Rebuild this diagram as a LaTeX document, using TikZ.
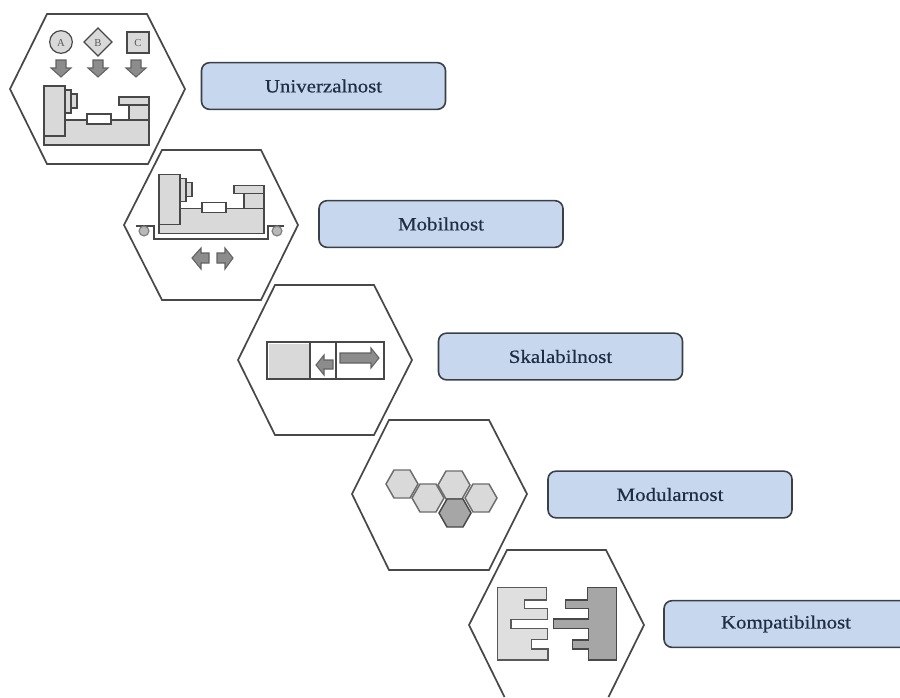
\documentclass[tikz,border=0pt]{standalone}
\usepackage{fontspec}
\setmainfont{Liberation Serif}
\newfontfamily\labelfont[FakeStretch=1.12,FakeBold=0.6]{Liberation Serif}
\definecolor{hexline}{HTML}{484848}
\definecolor{boxfill}{HTML}{C6D7EE}
\definecolor{boxline}{HTML}{3A3F48}
\definecolor{boxtext}{HTML}{1F2D45}
\definecolor{partfill}{HTML}{D9D9D9}
\definecolor{darkfill}{HTML}{A6A6A6}
\definecolor{arrowfill}{HTML}{8C8C8C}
\definecolor{partline}{HTML}{484848}
\tikzset{
  x=0.75pt,y=-0.75pt,
  bighex/.style={draw=hexline,line width=1.3pt,line join=miter},
  label box/.style={draw=boxline,fill=boxfill,line width=1.2pt,rounded corners=6pt,minimum height=35pt,
    text=boxtext,font=\labelfont\fontsize{14}{16}\selectfont,inner sep=0pt},
  part/.style={draw=partline,fill=partfill,line width=.9pt},
  white part/.style={draw=partline,fill=white,line width=.9pt},
  flow/.style={draw=arrowfill!70!black,fill=arrowfill,line width=.8pt},
  cell/.style={draw=gray!85!black,fill=partfill,line width=1.1pt},
  tag/.style={font=\fontsize{8}{9}\selectfont,text=black!65,inner sep=0pt},
  machine/.pic={
    \draw[part] (44,120) -- (149,120) -- (149,145) -- (44,145) -- cycle;
    \draw[part] (44,86) rectangle (65,136);
    \draw[part] (65,90) rectangle (71,113);
    \draw[part] (71,94) rectangle (77,108);
    \draw[white part] (87,114) rectangle (111,124);
    \draw[part] (129,105) rectangle (149,120);
    \draw[part] (119,97) rectangle (149,105);
  }
}
\begin{document}
\begin{tikzpicture}
\useasboundingbox (0,0) rectangle (900,697);
% large hexagons
\draw[bighex] (47,14) -- (147,14) -- (185,89) -- (148,164) -- (47,164) -- (10,89) -- cycle;
\draw[bighex] (162,150) -- (261,150) -- (298,225) -- (261,300) -- (162,300) -- (124,225) -- cycle;
\draw[bighex] (275,285) -- (374,285) -- (412,360) -- (374,435) -- (275,435) -- (238,360) -- cycle;
\draw[bighex] (389,420) -- (489,420) -- (527,494) -- (489,570) -- (389,570) -- (352,494) -- cycle;
\draw[bighex] (504.5,697) -- (469,625) -- (507,550) -- (606,550) -- (644,625) -- (608.5,697);
% labels
\node[label box,minimum width=183pt] (u) at (323.5,86) {Univerzalnost};
\node[label box,minimum width=183pt] (m) at (441,224) {Mobilnost};
\node[label box,minimum width=183pt] (s) at (560.5,356.5) {Skalabilnost};
\node[label box,minimum width=183pt] (o) at (670,494.5) {Modularnost};
\node[label box,minimum width=183pt] (k) at (786,624) {Kompatibilnost};
% icon 1
\draw[part] (61,42) circle (8.5pt);
\node[tag] (a) at (61,43) {A};
\draw[part] (98,28) -- (112,42) -- (98,56) -- (84,42) -- cycle;
\node[tag] (b) at (98,43) {B};
\draw[part] (127,32) rectangle (149,53);
\node[tag] (c) at (138,43) {C};
\foreach \ax in {61,98,136}{
  \draw[flow,shift={(\ax,0)}] (-5,60) -- (5,60) -- (5,68) -- (10,68) -- (0,77) -- (-10,68) -- (-5,68) -- cycle;
}
\pic at (0,0) {machine};
% icon 2
\pic at (115,88.5) {machine};
\draw[partline,line width=1pt] (136,226) -- (154,226) -- (154,239) -- (268,239) -- (268,226) -- (284,226);
\draw[part,draw=gray,fill=darkfill!80!white] (144,231) circle (3.7pt);
\draw[part,draw=gray,fill=darkfill!80!white] (277,231) circle (3.7pt);
\draw[flow] (192,258) -- (201,248) -- (201,253) -- (209,253) -- (209,263) -- (201,263) -- (201,269) -- cycle;
\draw[flow] (233,258) -- (225,248) -- (225,253) -- (217,253) -- (217,263) -- (225,263) -- (225,269) -- cycle;
% icon 3
\fill[partfill] (269,344) rectangle (309,378);
\draw[partline,line width=1pt] (267,342) rectangle (384,379);
\draw[partline,line width=1pt] (310,342) -- (310,379) (336,342) -- (336,379);
\draw[flow] (316,365) -- (324,355) -- (324,360) -- (333,360) -- (333,369) -- (324,369) -- (324,375) -- cycle;
\draw[flow] (379,358) -- (371,348) -- (371,353) -- (340,353) -- (340,363) -- (371,363) -- (371,368) -- cycle;
% icon 4
\foreach \hx/\hy in {402/484,428/498,454/485,481/498}{
  \draw[cell,shift={(\hx,\hy)}] (-8,-14) -- (8,-14) -- (16,0) -- (8,14) -- (-8,14) -- (-16,0) -- cycle;
}
\draw[cell,draw=partline,fill=darkfill,shift={(455,513)}] (-8,-14) -- (8,-14) -- (16,0) -- (8,14) -- (-8,14) -- (-16,0) -- cycle;
% icon 5
\begin{scope}[shift={(465,545)},x=0.25pt,y=-0.25pt]
\draw[part,draw=gray!70!black,line width=1pt,fill=partfill!85!white] (97,128) -- (245,128) -- (245,165) -- (178,165) -- (178,190) -- (247,190) -- (247,223) -- (138,223) -- (138,250) -- (247,250) -- (247,283) -- (200,283) -- (200,312) -- (249,312) -- (249,345) -- (97,345) -- cycle;
\draw[part,fill=darkfill] (368,128) -- (455,128) -- (455,345) -- (370,345) -- (370,312) -- (323,312) -- (323,285) -- (370,285) -- (370,250) -- (265,250) -- (265,222) -- (370,222) -- (370,190) -- (302,190) -- (302,165) -- (368,165) -- cycle;
\end{scope}
\end{tikzpicture}
\end{document}
